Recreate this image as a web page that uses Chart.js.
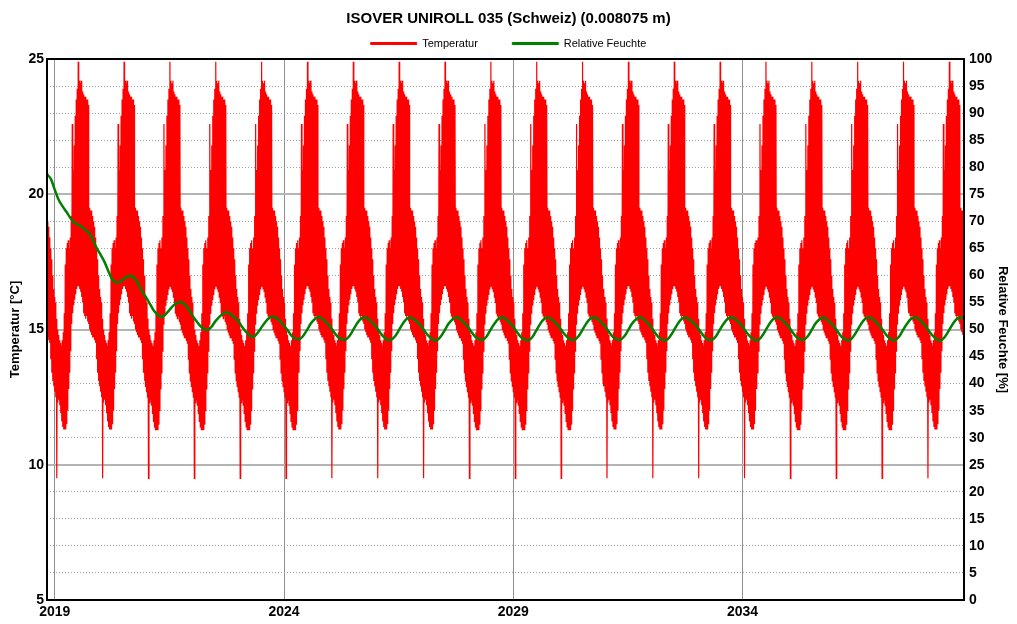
<!DOCTYPE html>
<html>
<head>
<meta charset="utf-8">
<title>ISOVER UNIROLL 035 (Schweiz)</title>
<script src="https://cdn.jsdelivr.net/npm/chart.js@4.4.1/dist/chart.umd.min.js"></script>
<style>
    html, body { margin: 0; padding: 0; background: #ffffff; }
    #wrap { width: 1017px; height: 624px; }
</style>
</head>
<body>
<div id="wrap"><canvas id="hygroChart" width="1017" height="624"></canvas></div>
<script>
// time axis is in decimal years (Nov 2018 .. Nov 2038)
const xMin = 2018.83;
const xMax = 2038.83;
const yearTicks = [2019, 2024, 2029, 2034];
const simYears = [2018, 2019, 2020, 2021, 2022, 2023, 2024, 2025, 2026, 2027, 2028,
    2029, 2030, 2031, 2032, 2033, 2034, 2035, 2036, 2037, 2038];

// temperature [°C], same climate year every year: low / high per ~8 day slot (Jan -> Dec)
const tempLow = [12.7, 12.5, 9.5, 12.3, 12.4, 12.2, 11.9, 11.6, 11.4, 11.3, 11.3, 11.3,
    11.5, 12.0, 12.8, 13.4, 14.2, 15.2, 15.6, 15.9, 16.1, 16.3, 16.5, 16.6,
    16.6, 16.5, 16.4, 16.2, 16.0, 15.6, 15.5, 15.4, 15.5, 15.3, 15.2, 15.0,
    14.9, 14.8, 14.7, 14.7, 14.6, 14.5, 13.9, 13.4, 13.1, 12.9];
const tempHigh = [16.0, 15.4, 15.0, 14.8, 14.6, 14.5, 14.4, 14.6, 14.9, 15.6, 17.4, 18.0,
    18.2, 18.3, 18.0, 18.4, 19.2, 22.6, 20.9, 21.8, 22.9, 23.5, 23.9, 24.9,
    24.2, 24.1, 24.2, 23.8, 23.7, 23.6, 23.6, 23.5, 23.5, 23.3, 19.5, 19.4,
    19.4, 19.2, 19.0, 18.8, 18.4, 18.0, 17.6, 17.0, 16.5, 16.2];

// relative humidity [%], first of each month from Nov 2018
const humidityStart = 2018 + 10 / 12;
const humidity = [
    78.7, 77.8,
    75.8, 74.0, 72.8, 71.8, 70.7, 69.8, 69.4, 69.0, 68.4, 67.8, 66.5, 65.0, // 2019
    63.8, 62.5, 60.8, 59.3, 58.7, 58.8, 59.3, 59.8, 59.9, 59.4, 58.2, 56.9, // 2020
    55.8, 54.6, 53.4, 52.7, 52.3, 52.8, 53.6, 54.4, 54.9, 55.1, 54.6, 53.8, // 2021
    52.6, 51.6, 50.7, 50.1, 49.9, 50.5, 51.5, 52.3, 52.9, 53.2, 52.8, 52.2, // 2022
    51.6, 50.5, 49.6, 48.9, 48.6, 49.3, 50.3, 51.3, 52.1, 52.4, 52.1, 51.5, // 2023
    50.7, 49.8, 48.8, 48.3, 48.2, 48.8, 49.9, 51.1, 51.9, 52.3, 52.0, 51.3, // 2024
    50.6, 49.6, 48.7, 48.2, 48.1, 48.7, 49.8, 51.0, 51.9, 52.2, 52.0, 51.3, // 2025
    50.6, 49.6, 48.7, 48.1, 48.1, 48.7, 49.8, 51.0, 51.9, 52.2, 51.9, 51.3, // 2026
    50.5, 49.5, 48.7, 48.1, 48.0, 48.7, 49.8, 51.0, 51.8, 52.2, 52.0, 51.3, // 2027
    50.6, 49.6, 48.7, 48.2, 48.1, 48.7, 49.9, 51.0, 51.9, 52.2, 52.0, 51.3, // 2028
    50.5, 49.5, 48.6, 48.1, 48.0, 48.6, 49.8, 51.0, 51.9, 52.2, 51.9, 51.2, // 2029
    50.5, 49.5, 48.7, 48.1, 48.1, 48.7, 49.8, 51.0, 51.9, 52.2, 52.0, 51.3, // 2030
    50.6, 49.6, 48.7, 48.2, 48.1, 48.7, 49.8, 51.0, 51.8, 52.2, 52.0, 51.3, // 2031
    50.5, 49.5, 48.6, 48.1, 48.0, 48.7, 49.8, 51.0, 51.9, 52.2, 51.9, 51.3, // 2032
    50.6, 49.6, 48.7, 48.1, 48.1, 48.7, 49.9, 51.0, 51.9, 52.2, 52.0, 51.3, // 2033
    50.5, 49.5, 48.7, 48.1, 48.0, 48.7, 49.8, 51.0, 51.9, 52.2, 52.0, 51.3, // 2034
    50.6, 49.6, 48.7, 48.2, 48.1, 48.7, 49.8, 51.0, 51.8, 52.2, 51.9, 51.2, // 2035
    50.5, 49.5, 48.6, 48.1, 48.0, 48.7, 49.8, 51.0, 51.9, 52.2, 52.0, 51.3, // 2036
    50.6, 49.6, 48.7, 48.1, 48.1, 48.7, 49.9, 51.0, 51.9, 52.2, 52.0, 51.3, // 2037
    50.5, 49.5, 48.7, 48.1, 48.0, 48.7, 49.8, 51.0, 51.9, 52.2, 52.0        // 2038
];

const fontFamily = "'Liberation Sans', Arial, sans-serif";

function buildTemperature() {
    const slots = tempLow.length;
    const pts = [];
    simYears.forEach(year => {
        tempLow.forEach((lo, i) => {
            pts.push({ x: year + i / slots, y: lo });
            pts.push({ x: year + (i + 0.5) / slots, y: tempHigh[i] });
        });
    });
    return pts.filter(p => p.x >= xMin && p.x <= xMax);
}

function buildHumidity() {
    return humidity.map((v, i) => ({ x: humidityStart + i / 12, y: v }));
}

// black frame round the plot area
const framePlugin = {
    id: 'frame',
    afterDatasetsDraw(chart) {
        const { ctx, chartArea: a } = chart;
        ctx.save();
        ctx.strokeStyle = '#000000';
        ctx.lineWidth = 2;
        ctx.strokeRect(a.left, a.top, a.right - a.left, a.bottom - a.top);
        ctx.restore();
    }
};

function renderChart(canvasId) {
    const ctx = document.getElementById(canvasId);
    if (!ctx) return;

    new Chart(ctx, {
        type: 'line',
        data: {
            datasets: [{
                label: 'Temperatur',
                data: buildTemperature(),
                yAxisID: 'y',
                borderColor: '#ff0000',
                backgroundColor: '#ff0000',
                borderWidth: 1.2,
                pointRadius: 0,
                tension: 0,
                order: 2
            }, {
                label: 'Relative Feuchte',
                data: buildHumidity(),
                yAxisID: 'y1',
                borderColor: '#008000',
                backgroundColor: '#008000',
                borderWidth: 2.5,
                pointRadius: 0,
                tension: 0.3,
                order: 1
            }]
        },
        options: {
            responsive: false,
            animation: false,
            layout: { padding: 0 },
            plugins: {
                title: {
                    display: true,
                    text: 'ISOVER UNIROLL 035 (Schweiz) (0.008075 m)',
                    color: '#000000',
                    font: { family: fontFamily, size: 15, weight: 'bold' },
                    padding: { top: 10, bottom: 0 }
                },
                legend: {
                    labels: {
                        color: '#000000',
                        font: { family: fontFamily, size: 11 },
                        boxWidth: 46,
                        boxHeight: 2,
                        padding: 10,
                        generateLabels: chart => chart.data.datasets.map((ds, i) => ({
                            // trailing blanks widen the gap between the two entries
                            text: i === 0 ? ds.label + '        ' : ds.label,
                            fillStyle: ds.borderColor,
                            strokeStyle: ds.borderColor,
                            lineWidth: 1,
                            hidden: false,
                            datasetIndex: i
                        }))
                    }
                },
                tooltip: { enabled: false }
            },
            scales: {
                x: {
                    type: 'linear',
                    min: xMin,
                    max: xMax,
                    afterBuildTicks: scale => { scale.ticks = yearTicks.map(v => ({ value: v })); },
                    afterFit: scale => { scale.height = 24; },
                    ticks: {
                        autoSkip: false,
                        maxRotation: 0,
                        padding: 4,
                        color: '#000000',
                        font: { family: fontFamily, size: 14, weight: 'bold' },
                        callback: v => String(v)
                    },
                    grid: { color: '#909090', lineWidth: 1, drawTicks: false },
                    border: { display: false }
                },
                y: {
                    position: 'left',
                    min: 5,
                    max: 25,
                    afterFit: scale => { scale.width = 47; },
                    ticks: {
                        stepSize: 5,
                        padding: 3,
                        color: '#000000',
                        font: { family: fontFamily, size: 14, weight: 'bold' }
                    },
                    grid: {
                        color: c => (c.tick && (c.tick.value === 5 || c.tick.value === 25)) ? 'rgba(0,0,0,0)' : '#b4b4b4',
                        lineWidth: 2,
                        drawTicks: false
                    },
                    border: { display: false },
                    title: {
                        display: true,
                        text: 'Temperatur [°C]',
                        color: '#000000',
                        font: { family: fontFamily, size: 13, weight: 'bold' },
                        padding: { top: 8, bottom: 0 }
                    }
                },
                y1: {
                    position: 'right',
                    min: 0,
                    max: 100,
                    afterFit: scale => { scale.width = 53; },
                    ticks: {
                        stepSize: 5,
                        autoSkip: false,
                        padding: 5,
                        color: '#000000',
                        font: { family: fontFamily, size: 14, weight: 'bold' }
                    },
                    grid: {
                        color: c => (c.tick && c.tick.value % 25 === 0) ? 'rgba(0,0,0,0)' : '#a0a0a0',
                        lineWidth: 1,
                        drawTicks: false
                    },
                    border: { display: false, dash: [1, 2] },
                    title: {
                        display: true,
                        text: 'Relative Feuchte [%]',
                        color: '#000000',
                        font: { family: fontFamily, size: 13, weight: 'bold' },
                        padding: { top: 7, bottom: 0 }
                    }
                }
            }
        },
        plugins: [framePlugin]
    });
}

renderChart('hygroChart');
</script>
</body>
</html>
